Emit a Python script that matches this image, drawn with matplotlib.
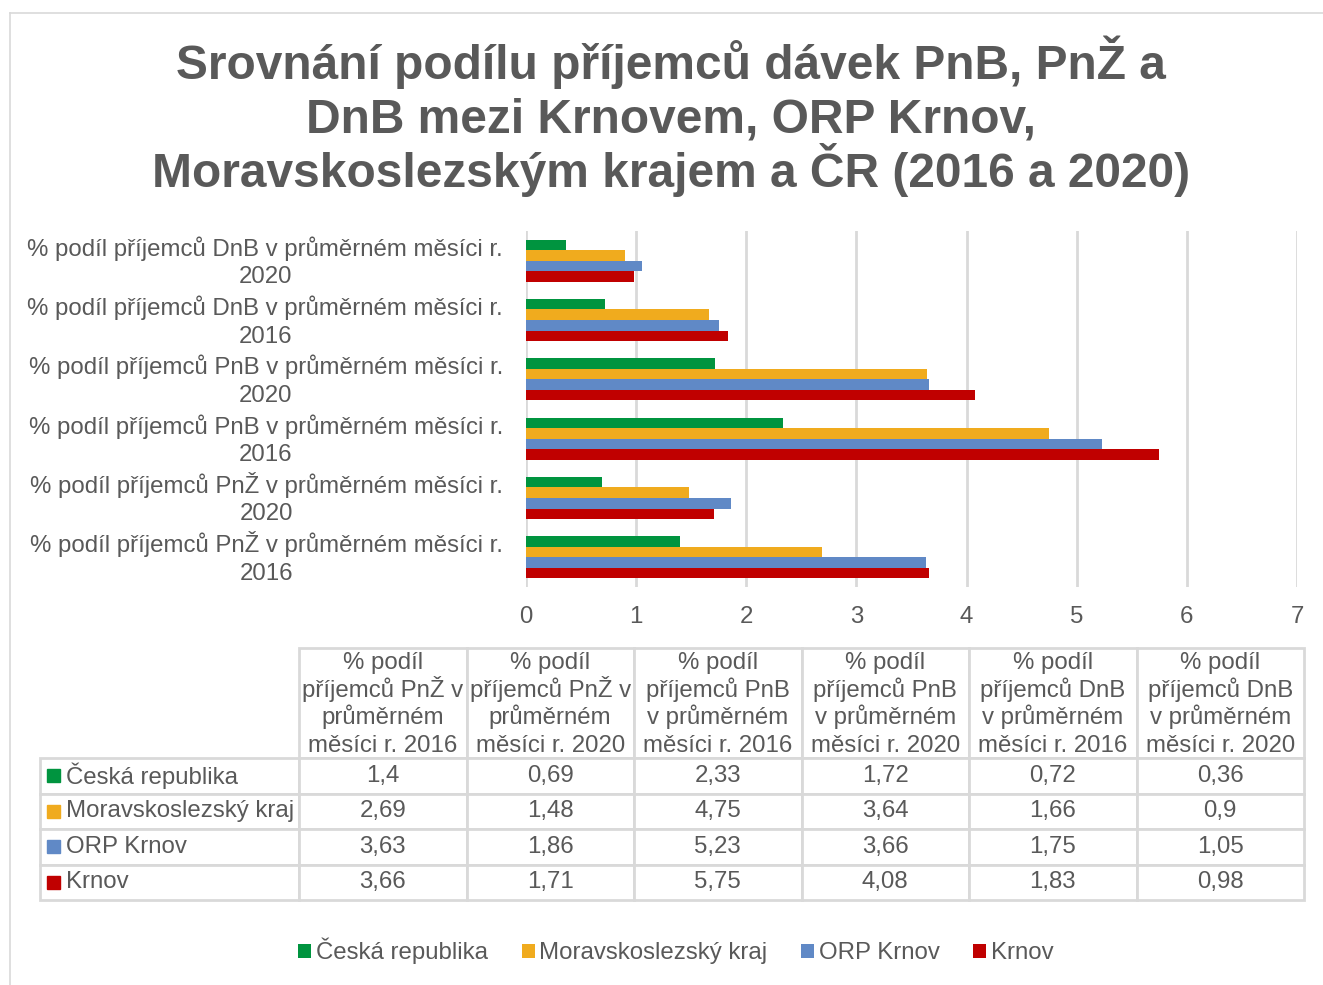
import matplotlib
matplotlib.use("Agg")
import matplotlib.pyplot as plt
from matplotlib.patches import Patch, Rectangle
from matplotlib.lines import Line2D
import numpy as np

plt.rcParams['font.family'] = ['Liberation Sans', 'DejaVu Sans']

# ---- data ----
categories = [
    "% podíl příjemců PnŽ v průměrném měsíci r. 2016",
    "% podíl příjemců PnŽ v průměrném měsíci r. 2020",
    "% podíl příjemců PnB v průměrném měsíci r. 2016",
    "% podíl příjemců PnB v průměrném měsíci r. 2020",
    "% podíl příjemců DnB v průměrném měsíci r. 2016",
    "% podíl příjemců DnB v průměrném měsíci r. 2020",
]
table_headers = [
    "% podíl\npříjemců PnŽ v\nprůměrném\nměsíci r. 2016",
    "% podíl\npříjemců PnŽ v\nprůměrném\nměsíci r. 2020",
    "% podíl\npříjemců PnB\nv průměrném\nměsíci r. 2016",
    "% podíl\npříjemců PnB\nv průměrném\nměsíci r. 2020",
    "% podíl\npříjemců DnB\nv průměrném\nměsíci r. 2016",
    "% podíl\npříjemců DnB\nv průměrném\nměsíci r. 2020",
]
series_names = ["Česká republika", "Moravskoslezský kraj", "ORP Krnov", "Krnov"]
cr = [1.4, 0.69, 2.33, 1.72, 0.72, 0.36]
msk = [2.69, 1.48, 4.75, 3.64, 1.66, 0.9]
orp = [3.63, 1.86, 5.23, 3.66, 1.75, 1.05]
krnov = [3.66, 1.71, 5.75, 4.08, 1.83, 0.98]
series_values = [cr, msk, orp, krnov]
colors = ["#00943F", "#F0AB1E", "#6089C6", "#C00000"]
x_ticks = [0, 1, 2, 3, 4, 5, 6, 7]
title_lines = ["Srovnání podílu příjemců dávek PnB, PnŽ a",
               "DnB mezi Krnovem, ORP Krnov,",
               "Moravskoslezským krajem a ČR (2016 a 2020)"]

W, H = 1323, 985
fig = plt.figure(figsize=(W / 100, H / 100), dpi=100)
TXT = "#595959"
GRID = "#D9D9D9"
FS = 17.3

def fx(px):
    return px / W

def fy(py):
    return 1 - py / H

# outer frame lines
fig.add_artist(Line2D([fx(10), 1.0], [fy(13), fy(13)], color=GRID, lw=1.2))
fig.add_artist(Line2D([fx(10), fx(10)], [fy(13), 0], color=GRID, lw=1.2))

# title (one text per line for even spacing)
for i, line in enumerate(title_lines):
    fig.text(fx(671), fy(79 + 54 * i), line, ha='center', va='baseline',
             fontsize=34.5, fontweight='bold', color=TXT)

# ---- bar chart ----
ax_l, ax_r, ax_t, ax_b = 526, 1297, 231, 587
ax = fig.add_axes([fx(ax_l), fy(ax_b), fx(ax_r - ax_l), (ax_b - ax_t) / H])
n = len(categories)
y = np.arange(n)
bh = 0.177
offsets = [1.5, 0.5, -0.5, -1.5]
for vals, c, off, name in zip(series_values, colors, offsets, series_names):
    ax.barh(y + off * bh, vals, height=bh, color=c, label=name, zorder=3)
ax.set_xlim(0, 7)
ax.set_ylim(-0.5, n - 0.5)
ax.set_xticks(x_ticks)
ax.set_xticklabels([str(t) for t in x_ticks])
ax.set_yticks(y)
ax.set_yticklabels([])
ax.tick_params(axis='y', length=0)
ax.tick_params(axis='x', length=0, pad=14, labelsize=FS, labelcolor=TXT)
for s in ax.spines.values():
    s.set_visible(False)
ax.grid(axis='x', color=GRID, lw=2, zorder=0)
ax.set_axisbelow(True)
ax.set_facecolor('none')

# category labels (two centred lines, right edge near axis)
renderer = fig.canvas.get_renderer()
for yi, cat in zip(y, categories):
    first, second = cat.rsplit(" ", 1)
    t1 = ax.annotate(first, xy=(0, yi), xycoords=('axes fraction', 'data'),
                     xytext=(-23, 5), textcoords='offset pixels',
                     ha='right', va='baseline', fontsize=FS, color=TXT)
    w1 = t1.get_window_extent(renderer).width
    ax.annotate(second, xy=(0, yi), xycoords=('axes fraction', 'data'),
                xytext=(-23 - w1 / 2, -22.5), textcoords='offset pixels',
                ha='center', va='baseline', fontsize=FS, color=TXT)

# ---- data table ----
t_l, t_r, t_t, t_b = 40, 1304, 648, 900
tax = fig.add_axes([fx(t_l), fy(t_b), fx(t_r - t_l), (t_b - t_t) / H])
tax.axis('off')
fmt = lambda v: str(v).replace('.', ',')
cell_text = [[""] * (len(categories) + 1)]
for name, vals in zip(series_names, series_values):
    cell_text.append([name] + [fmt(v) for v in vals])
label_w = 259
data_w = (t_r - t_l - label_w) / len(categories)
col_widths = [label_w] + [data_w] * len(categories)
tbl = tax.table(cellText=cell_text, colWidths=[c / (t_r - t_l) for c in col_widths],
                bbox=[0, 0, 1, 1], cellLoc='center')
tbl.auto_set_font_size(False)
header_h, row_h = 110, 35.5
for (r, c), cell in tbl.get_celld().items():
    cell.set_height(header_h if r == 0 else row_h)
    cell.set_edgecolor(GRID)
    cell.set_linewidth(2)
    txt = cell.get_text()
    txt.set_fontsize(FS)
    txt.set_color(TXT)
    if r == 0 and c == 0:
        cell.visible_edges = ''
    if c == 0 and r > 0:
        txt.set_ha('left')
        cell._loc = 'left'

# header texts, one line at a time for even spacing
for j, head in enumerate(table_headers):
    cx = t_l + label_w + data_w * (j + 0.5)
    for k, line in enumerate(head.split("\n")):
        fig.text(fx(cx), fy(t_t + 21 + 27.7 * k), line, ha='center', va='baseline',
                 fontsize=FS, color=TXT)

# legend keys in table row labels
for i, c in enumerate(colors):
    ry = t_t + header_h + row_h * (i + 0.5)
    fig.add_artist(Rectangle((fx(47), fy(ry + 6.5)), fx(13), 13 / H,
                             color=c, transform=fig.transFigure))

# ---- bottom legend ----
handles = [Patch(facecolor=c, edgecolor='none') for c in colors]
fig.legend(handles, series_names, loc='center', bbox_to_anchor=(fx(676), fy(951)),
           ncol=4, frameon=False, fontsize=FS, handlelength=0.54, handleheight=0.54,
           handletextpad=0.2, columnspacing=1.4, labelcolor=TXT)

fig.savefig("out.png", dpi=100)
